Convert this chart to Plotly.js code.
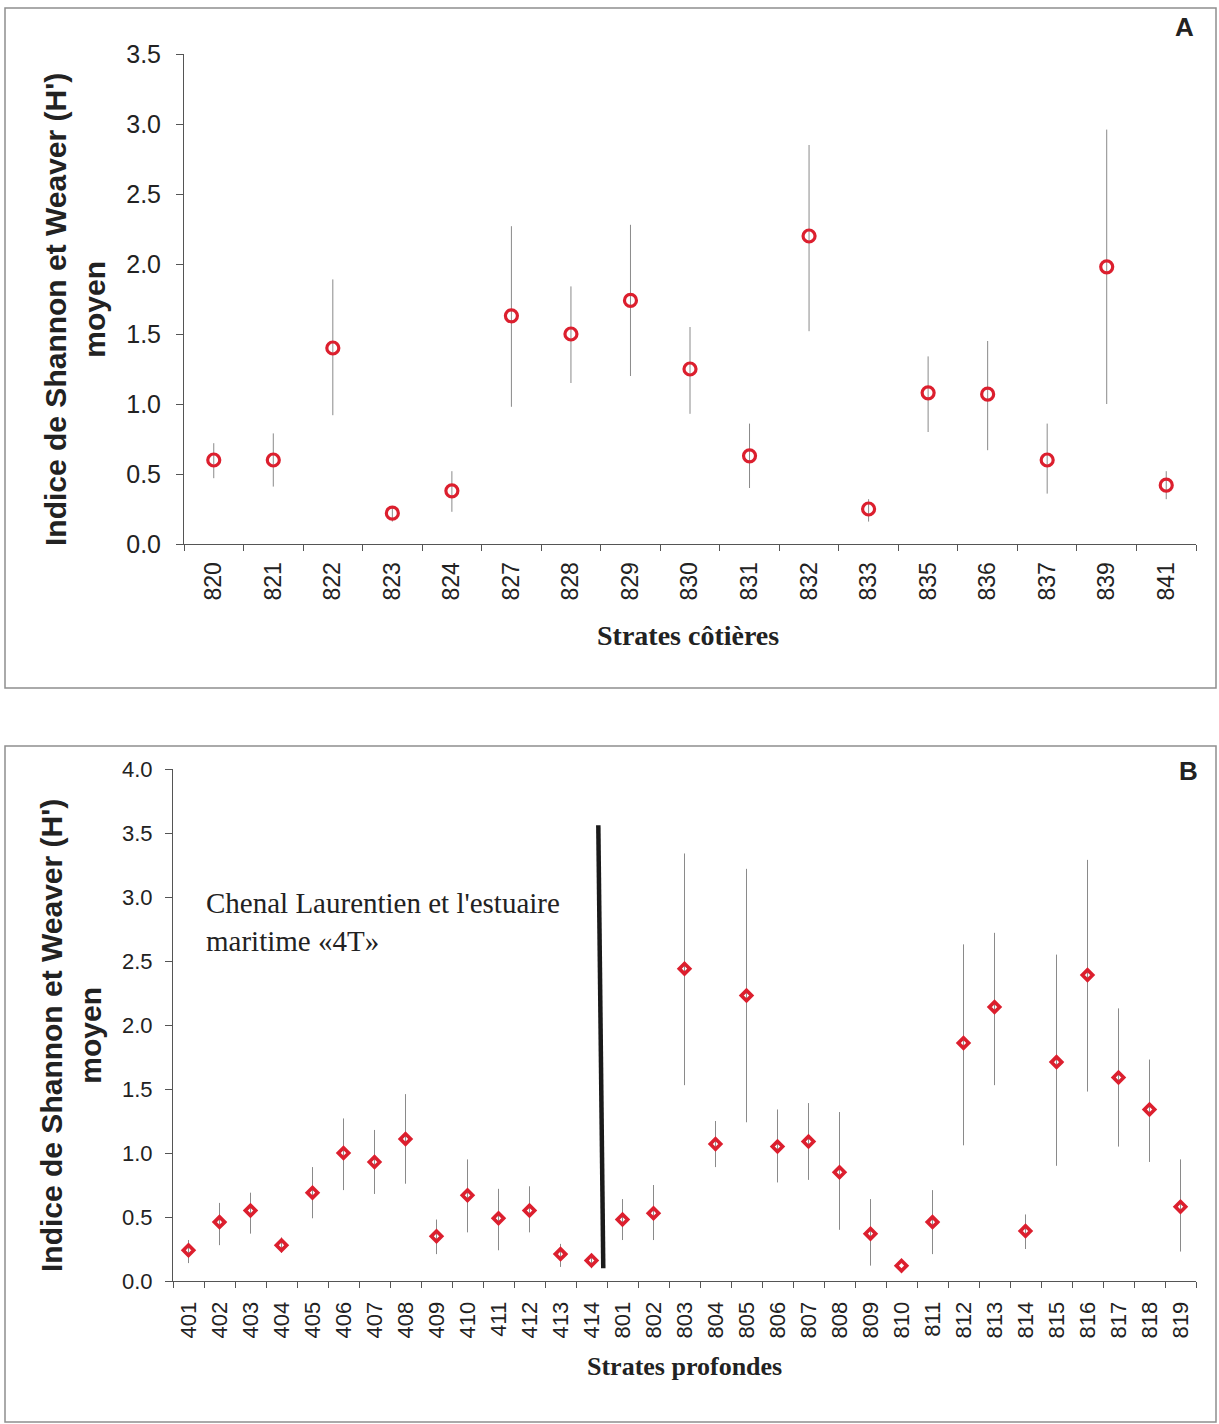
<!DOCTYPE html>
<html>
<head>
<meta charset="utf-8">
<script src="https://cdn.plot.ly/plotly-3.0.1.min.js"></script>
<style>
  html, body { margin: 0; padding: 0; background: #ffffff; }
  #chart { width: 1219px; height: 1424px; }
</style>
</head>
<body>
<div id="chart"></div>
<script>
// Panel A: coastal strata, mean Shannon-Weaver index with min/max bars
const strataCoastal = ['820','821','822','823','824','827','828','829','830','831','832','833','835','836','837','839','841'];
const meanCoastal  = [0.60, 0.60, 1.40, 0.22, 0.38, 1.63, 1.50, 1.74, 1.25, 0.63, 2.20, 0.25, 1.08, 1.07, 0.60, 1.98, 0.42];
const upperCoastal = [0.72, 0.79, 1.89, 0.27, 0.52, 2.27, 1.84, 2.28, 1.55, 0.86, 2.85, 0.32, 1.34, 1.45, 0.86, 2.96, 0.52];
const lowerCoastal = [0.47, 0.41, 0.92, 0.16, 0.23, 0.98, 1.15, 1.20, 0.93, 0.40, 1.52, 0.16, 0.80, 0.67, 0.36, 1.00, 0.32];

// Panel B: deep strata (Laurentian Channel / 4T on the left, 8xx on the right)
const strataDeep = ['401','402','403','404','405','406','407','408','409','410','411','412','413','414',
                    '801','802','803','804','805','806','807','808','809','810','811','812','813','814','815','816','817','818','819'];
const meanDeep  = [0.24, 0.46, 0.55, 0.28, 0.69, 1.00, 0.93, 1.11, 0.35, 0.67, 0.49, 0.55, 0.21, 0.16,
                   0.48, 0.53, 2.44, 1.07, 2.23, 1.05, 1.09, 0.85, 0.37, 0.12, 0.46, 1.86, 2.14, 0.39, 1.71, 2.39, 1.59, 1.34, 0.58];
const upperDeep = [0.32, 0.61, 0.69, 0.34, 0.89, 1.27, 1.18, 1.46, 0.48, 0.95, 0.72, 0.74, 0.29, 0.21,
                   0.64, 0.75, 3.34, 1.25, 3.22, 1.34, 1.39, 1.32, 0.64, 0.12, 0.71, 2.63, 2.72, 0.52, 2.55, 3.29, 2.13, 1.73, 0.95];
const lowerDeep = [0.14, 0.28, 0.37, 0.22, 0.49, 0.71, 0.68, 0.76, 0.21, 0.38, 0.24, 0.38, 0.11, 0.10,
                   0.32, 0.32, 1.53, 0.89, 1.24, 0.77, 0.79, 0.40, 0.12, 0.12, 0.21, 1.06, 1.53, 0.25, 0.90, 1.48, 1.05, 0.93, 0.23];

const yTitle = "<b>Indice de Shannon et Weaver (H')<br>moyen</b>";
const xTitleCoastal = 'Strates côtières';
const xTitleDeep = 'Strates profondes';
const regionNote = "Chenal Laurentien et l'estuaire<br>maritime «4T»";

const W = 1219, H = 1424;
const px = v => v / W;
const py = v => 1 - v / H;

const RED = '#dc1f2e';
const AXIS = '#555555';
const TXT = '#222222';
const SANS = 'Liberation Sans, Arial, sans-serif';
const SERIF = 'Liberation Serif, Times New Roman, serif';

const diff = (a, b) => a.map((v, i) => Math.max(0, v - b[i]));
const boundaries = n => Array.from({length: n + 1}, (_, k) => k - 0.5);
const halfSteps = max => Array.from({length: Math.round(max / 0.5) + 1}, (_, k) => k * 0.5);

const traces = [
  {
    type: 'scatter', mode: 'markers', xaxis: 'x', yaxis: 'y',
    x: strataCoastal, y: meanCoastal,
    error_y: {type: 'data', symmetric: false,
              array: diff(upperCoastal, meanCoastal), arrayminus: diff(meanCoastal, lowerCoastal),
              color: '#8a8a8a', thickness: 1, width: 0},
    marker: {symbol: 'circle-open', size: 12, color: RED, line: {color: RED, width: 3.2}},
    hoverinfo: 'x+y', showlegend: false
  },
  {
    type: 'scatter', mode: 'markers', xaxis: 'x2', yaxis: 'y2',
    x: strataDeep, y: meanDeep,
    error_y: {type: 'data', symmetric: false,
              array: diff(upperDeep, meanDeep), arrayminus: diff(meanDeep, lowerDeep),
              color: '#8a8a8a', thickness: 1, width: 0},
    marker: {symbol: 'diamond-open', size: 8, color: RED, line: {color: RED, width: 3.6}},
    hoverinfo: 'x+y', showlegend: false
  }
];

const domA = {x: [px(184), px(1196)], y: [py(544), py(54)]};
const domB = {x: [px(173), px(1196)], y: [py(1281), py(769)]};

const baseX = (n, size, standoff) => ({
  type: 'category', range: [-0.5, n - 0.5], tickson: 'boundaries',
  ticks: 'outside', ticklen: 6, tickwidth: 1, tickcolor: AXIS,
  showline: true, linecolor: AXIS, linewidth: 1, showgrid: false, zeroline: false,
  tickangle: -90, tickfont: {family: SANS, size: size, color: TXT},
  ticklabelstandoff: standoff, fixedrange: true
});
const baseY = (max, size, standoff) => ({
  range: [0, max], tickvals: halfSteps(max), tickformat: '.1f',
  ticks: 'outside', ticklen: 7, tickwidth: 1, tickcolor: AXIS,
  showline: true, linecolor: AXIS, linewidth: 1, showgrid: false, zeroline: false,
  tickfont: {family: SANS, size: size, color: TXT},
  ticklabelstandoff: standoff, fixedrange: true
});
// inner half of the crossing tick marks
const innerX = (over, anchor, n) => ({
  overlaying: over, anchor: anchor, type: 'linear', range: [-0.5, n - 0.5],
  tickvals: boundaries(n), ticks: 'inside', ticklen: 6, tickwidth: 1, tickcolor: AXIS,
  showticklabels: false, showline: false, showgrid: false, zeroline: false, fixedrange: true
});
const innerY = (over, anchor, max) => ({
  overlaying: over, anchor: anchor, range: [0, max], tickvals: halfSteps(max),
  ticks: 'inside', ticklen: 8, tickwidth: 1, tickcolor: AXIS,
  showticklabels: false, showline: false, showgrid: false, zeroline: false, fixedrange: true
});

const note = (x, y, text, font, extra) => Object.assign({
  xref: 'paper', yref: 'paper', x: px(x), y: py(y), text: text, showarrow: false,
  xanchor: 'center', yanchor: 'middle', font: font
}, extra || {});

const layout = {
  width: W, height: H,
  margin: {l: 0, r: 0, t: 0, b: 0},
  paper_bgcolor: '#ffffff', plot_bgcolor: 'rgba(0,0,0,0)',
  showlegend: false,
  xaxis:  Object.assign(baseX(strataCoastal.length, 23, 8), {domain: domA.x, anchor: 'y'}),
  yaxis:  Object.assign(baseY(3.5, 25, 10), {domain: domA.y, anchor: 'x'}),
  xaxis2: Object.assign(baseX(strataDeep.length, 22, 11), {domain: domB.x, anchor: 'y2'}),
  yaxis2: Object.assign(baseY(4.0, 22, 8), {domain: domB.y, anchor: 'x2'}),
  xaxis3: innerX('x', 'y', strataCoastal.length),
  yaxis3: innerY('y', 'x', 3.5),
  xaxis4: innerX('x2', 'y2', strataDeep.length),
  yaxis4: innerY('y2', 'x2', 4.0),
  shapes: [
    // panel frames
    {type: 'rect', xref: 'paper', yref: 'paper', x0: px(5), x1: px(1216), y0: py(688), y1: py(8),
     line: {color: '#8f8f8f', width: 1.5}, layer: 'below'},
    {type: 'rect', xref: 'paper', yref: 'paper', x0: px(5), x1: px(1216), y0: py(1422), y1: py(746),
     line: {color: '#8f8f8f', width: 1.5}, layer: 'below'},
    // divider between the 4xx and 8xx deep strata
    {type: 'line', xref: 'x2', yref: 'y2', x0: 13.38, y0: 0.10, x1: 13.22, y1: 3.56,
     line: {color: '#1a1a1a', width: 4.5}}
  ],
  annotations: [
    note(1184, 27, '<b>A</b>', {family: SANS, size: 26, color: TXT}),
    note(1188, 771, '<b>B</b>', {family: SANS, size: 26, color: TXT}),
    note(75, 310, yTitle, {family: SANS, size: 30, color: TXT}, {textangle: -90}),
    note(71, 1036, yTitle, {family: SANS, size: 30, color: TXT}, {textangle: -90}),
    note(688, 636, '<b>' + xTitleCoastal + '</b>', {family: SERIF, size: 28, color: TXT}),
    note(684, 1366, '<b>' + xTitleDeep + '</b>', {family: SERIF, size: 26, color: TXT}),
    note(204, 922, regionNote, {family: SERIF, size: 29, color: TXT}, {xanchor: 'left', align: 'left'})
  ]
};

Plotly.newPlot('chart', traces, layout, {staticPlot: true, displayModeBar: false});
</script>
</body>
</html>
